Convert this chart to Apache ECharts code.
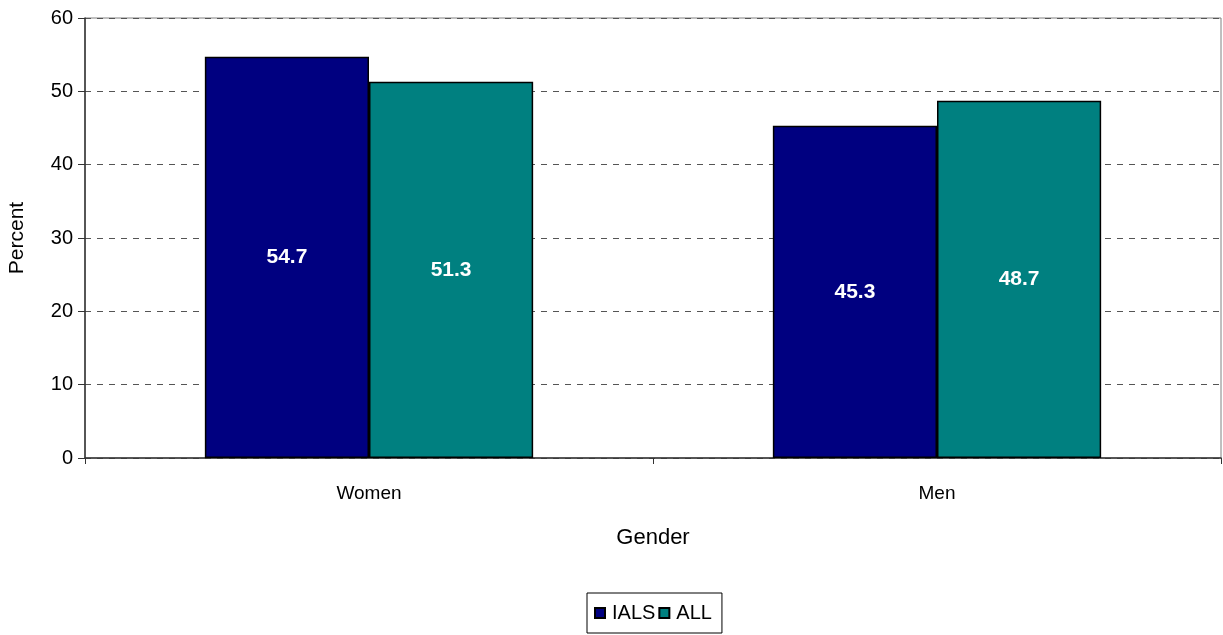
<!DOCTYPE html>
<html><head><meta charset="utf-8">
<script src="https://cdn.jsdelivr.net/npm/echarts@6/dist/echarts.min.js"></script>
<style>html,body{margin:0;padding:0;background:#fff}#c{width:1223px;height:635px}</style>
</head><body><div id="c"></div>
<script>
const categories = ['Women', 'Men'];
const ialsValues = [54.7, 45.3];
const allValues = [51.3, 48.7];
const yTicks = [0, 10, 20, 30, 40, 50, 60];

const font = '"Liberation Sans", Arial, sans-serif';
const chart = echarts.init(document.getElementById('c'));
const labelCfg = {
  show: true, position: 'inside', color: '#fff', fontWeight: 'bold',
  fontSize: 21, fontFamily: font, formatter: p => p.value.toFixed(1)
};
chart.setOption({
  animation: false,
  backgroundColor: '#fff',
  textStyle: { fontFamily: font },
  grid: { left: 85, right: 2, top: 18, bottom: 177, containLabel: false,
    outerBoundsMode: 'none',
    show: true, borderColor: '#808080', borderWidth: 1 },
  legend: {
    top: 593, left: 587, icon: 'rect', itemWidth: 10, itemHeight: 10,
    itemGap: 3, borderColor: '#000', borderWidth: 1, padding: [10, 10, 10, 7],
    textStyle: { fontSize: 20, color: '#000', fontFamily: font, padding: [0, 0, 0, 2] },
    data: ['IALS', 'ALL']
  },
  xAxis: {
    type: 'category', data: categories,
    name: 'Gender', nameLocation: 'middle', nameGap: 69,
    nameTextStyle: { fontSize: 22, color: '#000', fontFamily: font },
    axisLine: { lineStyle: { color: '#333', width: 1.5 } },
    axisTick: { show: true, alignWithLabel: false, length: 6, lineStyle: { color: '#333' } },
    axisLabel: { fontSize: 19, color: '#000', margin: 26, fontFamily: font }
  },
  yAxis: {
    type: 'value', min: yTicks[0], max: yTicks[yTicks.length - 1], interval: 10,
    name: 'Percent', nameLocation: 'middle', nameGap: 57,
    nameTextStyle: { fontSize: 21, color: '#000', fontFamily: font },
    axisLine: { show: true, lineStyle: { color: '#333', width: 1.5 } },
    axisTick: { show: true, length: 7, lineStyle: { color: '#333' } },
    axisLabel: { fontSize: 20, color: '#000', margin: 12, fontFamily: font },
    splitLine: { show: true, lineStyle: { color: '#555', type: [6, 6], width: 1 } }
  },
  series: [
    { name: 'IALS', type: 'bar', data: ialsValues, barGap: '0%', barCategoryGap: '42.2%',
      itemStyle: { color: '#000080', borderColor: '#000', borderWidth: 1.5 }, label: labelCfg },
    { name: 'ALL', type: 'bar', data: allValues,
      itemStyle: { color: '#008080', borderColor: '#000', borderWidth: 1.5 }, label: labelCfg }
  ]
});
</script></body></html>
